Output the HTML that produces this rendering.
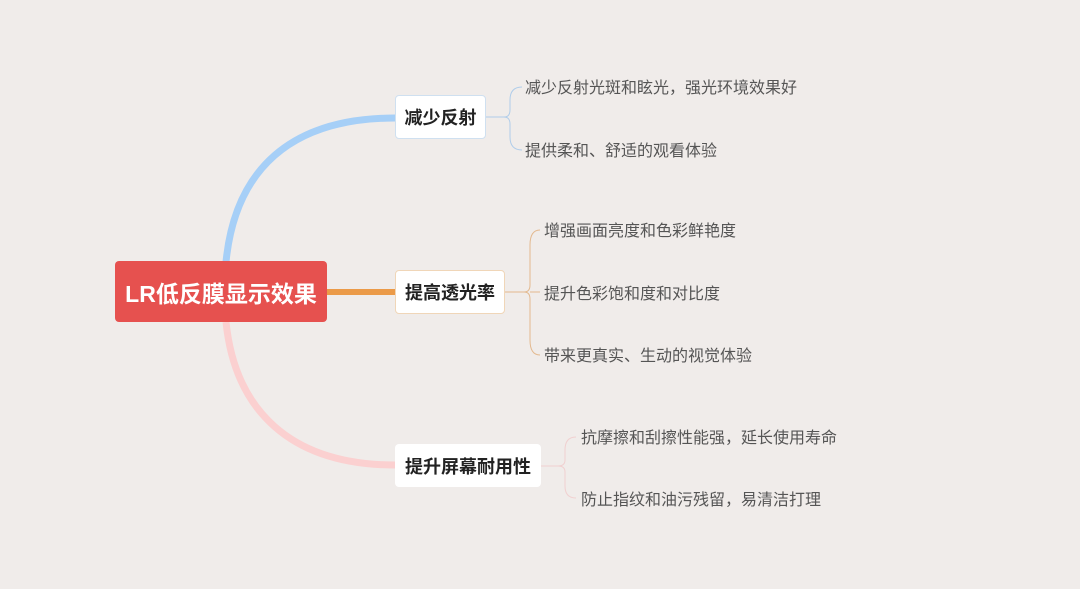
<!DOCTYPE html>
<html><head><meta charset="utf-8"><style>
body{margin:0;width:1080px;height:589px;background:#f0ecea;position:relative;overflow:hidden;font-family:"Liberation Sans","Noto Sans CJK SC",sans-serif}
.n{position:absolute;background:#fff;border-radius:4px;box-sizing:border-box;font-weight:bold;font-size:18px;color:#222;display:flex;align-items:center;justify-content:center}
.t{position:absolute;font-size:16px;color:#555;white-space:nowrap;line-height:18px}
</style></head><body>
<svg width="1080" height="589" style="position:absolute;left:0;top:0">
<path d="M226 262 C235 170 290 118 395 118" stroke="#a6cff7" stroke-width="7" fill="none"/>
<path d="M226 322 C235 410 290 465 395 465" stroke="#fbd0d0" stroke-width="7" fill="none"/>
<line x1="327" y1="292" x2="395" y2="292" stroke="#eb9a48" stroke-width="6"/>
<g fill="none" stroke-width="1">
<path d="M486 117 H504 M522 87 Q510 87 510 100 V110 Q510 117 504 117 Q510 117 510 124 V137 Q510 150 522 150" stroke="#b0cdea"/>
<path d="M505 292 H524 M540 230 Q530 230 530 245 V285 Q530 292 524 292 Q530 292 530 299 V340 Q530 355 540 355 M530 292 H540" stroke="#e3b98f"/>
<path d="M541 466 H558 M576 437 Q565 437 565 450 V460 Q565 466 558 466 Q565 466 565 472 V486 Q565 498 576 498" stroke="#f1d0d0"/>
</g>
</svg>
<div class="n" style="left:115px;top:261px;width:212px;height:61px;background:#e6514f;color:#fff;font-size:23px">LR低反膜显示效果</div>
<div class="n" style="left:395px;top:95px;width:91px;height:44px;border:1px solid #cfe0f0">减少反射</div>
<div class="n" style="left:395px;top:270px;width:110px;height:44px;border:1px solid #f0d6b8">提高透光率</div>
<div class="n" style="left:395px;top:444px;width:146px;height:43px">提升屏幕耐用性</div>
<div class="t" style="left:525px;top:80px">减少反射光斑和眩光，强光环境效果好</div>
<div class="t" style="left:525px;top:143px">提供柔和、舒适的观看体验</div>
<div class="t" style="left:544px;top:223px">增强画面亮度和色彩鲜艳度</div>
<div class="t" style="left:544px;top:286px">提升色彩饱和度和对比度</div>
<div class="t" style="left:544px;top:348px">带来更真实、生动的视觉体验</div>
<div class="t" style="left:581px;top:430px">抗摩擦和刮擦性能强，延长使用寿命</div>
<div class="t" style="left:581px;top:492px">防止指纹和油污残留，易清洁打理</div>
</body></html>
